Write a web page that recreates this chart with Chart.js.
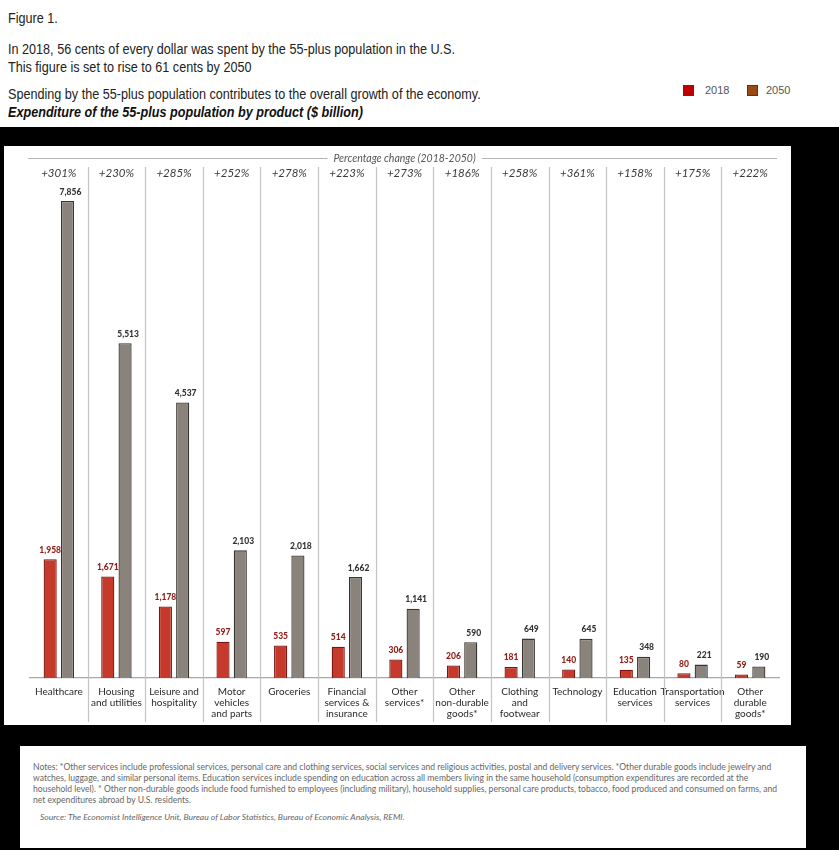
<!DOCTYPE html>
<html>
<head>
<meta charset="utf-8">
<script src="https://cdn.jsdelivr.net/npm/chart.js@4.4.1/dist/chart.umd.min.js"></script>
<style>
  html, body { margin: 0; padding: 0; }
  body { width: 839px; height: 850px; position: relative; background: #fff; overflow: hidden;
         font-family: "Liberation Sans", Arial, sans-serif; }
  .hdr { position: absolute; left: 8px; white-space: nowrap; color: #222; font-size: 14px;
         transform-origin: 0 50%; line-height: 16px; }
  .hdr.bi { font-weight: bold; font-style: italic; color: #111; }
  #black { position: absolute; left: 0; top: 127px; width: 839px; height: 723px; background: #000; }
  #panel { position: absolute; left: 4px; top: 146px; width: 787px; height: 579px; background: #fff; }
  #legend { position: absolute; top: 84px; left: 683px; font-size: 11px; color: #555; }
  .sw { position: absolute; top: 1px; width: 11px; height: 11px; }
  .lt { position: absolute; top: 0; white-space: nowrap; }
  #notes { position: absolute; left: 20px; top: 746px; width: 786px; height: 102px; background: #fff; }
  #notesText { position: absolute; left: 13px; top: 16px; white-space: nowrap; font-family: Lato, sans-serif;
               font-size: 8.5px; line-height: 11px; color: #666; transform-origin: 0 0; }
  #source { position: absolute; left: 20px; top: 66px; white-space: nowrap; font-family: Lato, sans-serif;
            font-size: 8.5px; font-style: italic; color: #666; transform-origin: 0 0; }
</style>
</head>
<body>
<div class="hdr" id="h1" style="top:10px">Figure 1.</div>
<div class="hdr" id="h2" style="top:41px">In 2018, 56 cents of every dollar was spent by the 55-plus population in the U.S.</div>
<div class="hdr" id="h3" style="top:59px">This figure is set to rise to 61 cents by 2050</div>
<div class="hdr" id="h4" style="top:86px">Spending by the 55-plus population contributes to the overall growth of the economy.</div>
<div class="hdr bi" id="h5" style="top:104px">Expenditure of the 55-plus population by product ($ billion)</div>

<div id="legend">
  <div class="sw" style="left:0; background:#c00000;"></div>
  <div class="lt" style="left:22px">2018</div>
  <div class="sw" style="left:64px; background:#9a4a12; box-sizing:border-box; border:1px solid #6a3008;"></div>
  <div class="lt" style="left:83px">2050</div>
</div>

<div id="black"></div>
<div id="panel"><canvas id="chart" width="787" height="579"></canvas></div>

<div id="notes">
  <div id="notesText">Notes: *Other services include professional services, personal care and clothing services, social services and religious activities, postal and delivery services. *Other durable goods include jewelry and<br>watches, luggage, and similar personal items. Education services include spending on education across all members living in the same household (consumption expenditures are recorded at the<br>household level). * Other non-durable goods include food furnished to employees (including military), household supplies, personal care products, tobacco, food produced and consumed on farms, and<br>net expenditures abroad by U.S. residents.</div>
  <div id="source">Source: The Economist Intelligence Unit, Bureau of Labor Statistics, Bureau of Economic Analysis, REMI.</div>
</div>

<script>
// ---------------------------
// Data
// ---------------------------
const categories = [
  ["Healthcare"],
  ["Housing", "and utilities"],
  ["Leisure and", "hospitality"],
  ["Motor", "vehicles", "and parts"],
  ["Groceries"],
  ["Financial", "services &", "insurance"],
  ["Other", "services*"],
  ["Other", "non-durable", "goods*"],
  ["Clothing", "and", "footwear"],
  ["Technology"],
  ["Education", "services"],
  ["Transportation", "services"],
  ["Other", "durable", "goods*"]
];
const spend2018 = [1958, 1671, 1178, 597, 535, 514, 306, 206, 181, 140, 135, 80, 59];
const spend2050 = [7856, 5513, 4537, 2103, 2018, 1662, 1141, 590, 649, 645, 348, 221, 190];
const pctChange = ["+301%", "+230%", "+285%", "+252%", "+278%", "+223%", "+273%",
                   "+186%", "+258%", "+361%", "+158%", "+175%", "+222%"];
const pctTitle = "Percentage change (2018-2050)";

// ---------------------------
// Fit condensed header / notes text to the widths seen in the figure
// ---------------------------
function fitWidth(id, target) {
  const el = document.getElementById(id);
  const w = el.getBoundingClientRect().width;
  return target / w;
}
const hs = fitWidth("h2", 447);
["h1", "h2", "h3", "h4", "h5"].forEach(id => {
  document.getElementById(id).style.transform = "scaleX(" + hs + ")";
});
const ns = fitWidth("notesText", 744);
document.getElementById("notesText").style.transform = "scaleX(" + ns + ")";
document.getElementById("source").style.transform = "scaleX(" + ns + ")";

// ---------------------------
// Decorations: separators, percentage header, value labels
// ---------------------------
const fmt = v => v.toLocaleString("en-US");

const panelDecor = {
  id: "panelDecor",
  beforeDatasetsDraw(chart) {
    const { ctx, chartArea: a } = chart;
    const xs = chart.scales.x;
    const step = xs.width / categories.length;
    ctx.save();
    ctx.strokeStyle = "#c4c4c4";
    ctx.lineWidth = 1.2;
    for (let i = 0; i < categories.length - 1; i++) {
      const x = Math.round(xs.getPixelForValue(i) + step / 2) + 0.5;
      ctx.beginPath();
      ctx.moveTo(x, a.top + 2);
      ctx.lineTo(x, chart.height - 3);
      ctx.stroke();
    }
    ctx.restore();
  },
  afterDatasetsDraw(chart) {
    const { ctx } = chart;
    ctx.save();
    ctx.textAlign = "center";
    ctx.textBaseline = "bottom";
    ctx.font = "900 8.5px Lato, sans-serif";
    const m0 = chart.getDatasetMeta(0), m1 = chart.getDatasetMeta(1);
    m0.data.forEach((bar, i) => {
      ctx.fillStyle = "#8e1c14";
      ctx.fillText(fmt(spend2018[i]), bar.x, bar.y - 5);
    });
    m1.data.forEach((bar, i) => {
      ctx.fillStyle = "#333";
      ctx.fillText(fmt(spend2050[i]), bar.x + 3, bar.y - 5);
    });
    ctx.restore();
  },
  afterDraw(chart) {
    const { ctx, chartArea: a } = chart;
    const xs = chart.scales.x;
    ctx.save();
    // title line
    const ly = a.top - 6.5;
    ctx.font = "italic 10.5px Lato, sans-serif";
    const tw = ctx.measureText(pctTitle).width;
    const cx = (a.left + a.right) / 2;
    ctx.fillStyle = "#555";
    ctx.textAlign = "center";
    ctx.textBaseline = "middle";
    ctx.fillText(pctTitle, cx, ly);
    ctx.strokeStyle = "#b5b5b5";
    ctx.lineWidth = 1.2;
    ctx.beginPath();
    ctx.moveTo(a.left - 2, ly); ctx.lineTo(cx - tw / 2 - 6, ly);
    ctx.moveTo(cx + tw / 2 + 6, ly); ctx.lineTo(a.right - 2, ly);
    ctx.stroke();
    // percentage labels
    ctx.font = "italic 11.5px Lato, sans-serif";
    ctx.fillStyle = "#3a3a3a";
    pctChange.forEach((p, i) => {
      ctx.fillText(p, xs.getPixelForValue(i), a.top + 8);
    });
    ctx.restore();
  }
};

// ---------------------------
// Chart
// ---------------------------
new Chart(document.getElementById("chart").getContext("2d"), {
  type: "bar",
  data: {
    labels: categories,
    datasets: [
      {
        label: "2018",
        data: spend2018,
        backgroundColor: "#c63a2c",
        borderColor: "#7e1410",
        borderWidth: 1.3,
        borderSkipped: "bottom"
      },
      {
        label: "2050",
        data: spend2050,
        backgroundColor: "#8a837c",
        borderColor: "#3a3633",
        borderWidth: 1.3,
        borderSkipped: "bottom"
      }
    ]
  },
  options: {
    responsive: false,
    animation: false,
    devicePixelRatio: 1,
    categoryPercentage: 0.6,
    barPercentage: 0.76,
    layout: { padding: { left: 26, right: 12, top: 19, bottom: 0 } },
    plugins: {
      legend: { display: false },
      tooltip: { enabled: false }
    },
    scales: {
      x: {
        grid: { display: false, drawTicks: false },
        border: { display: true, color: "#a8a8a8", width: 1.2 },
        ticks: {
          color: "#2a2a2a",
          font: { family: "Lato, sans-serif", size: 10, lineHeight: 1.12 },
          padding: 8,
          maxRotation: 0,
          minRotation: 0,
          autoSkip: false
        },
        afterFit(scale) { scale.height = 47; }
      },
      y: {
        display: false,
        min: 0,
        max: 8450
      }
    }
  },
  plugins: [panelDecor]
});
</script>
</body>
</html>
